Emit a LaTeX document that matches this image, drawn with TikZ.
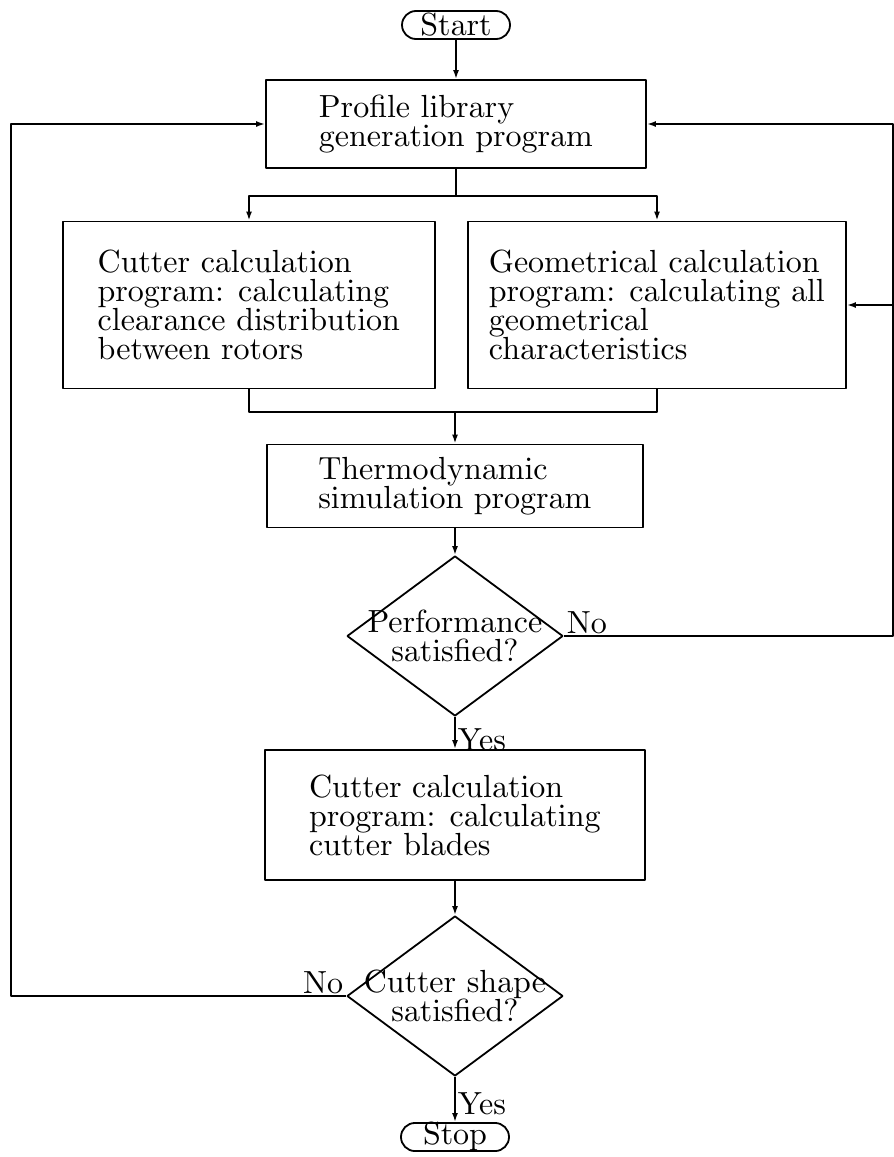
\documentclass[tikz,border=0pt]{standalone}
\usetikzlibrary{shapes.geometric,arrows.meta}
\font\chartfont=cmr10 at 16pt
\begin{document}
\begin{tikzpicture}[x=0.5pt, y=-0.5pt, line join=bevel, line width=0.9pt,
                    font={\chartfont\baselineskip=14.5pt}]

    \tikzset{
      process_box/.style  = {draw, rectangle, align=left, inner sep=0pt},
      terminal_box/.style = {draw, rectangle, rounded corners=7pt, inner sep=0pt,
                             minimum width=54pt, minimum height=14pt},
      decision/.style     = {draw, diamond, inner sep=0pt,
                             minimum width=108pt, minimum height=80pt},
      flow_arrow/.style   = {-{Latex[length=4.5pt,width=3pt]}},
      branch_label/.style = {inner sep=1pt}
    }

    \useasboundingbox (0,0) rectangle (894,1157);

    % main column
    \node[terminal_box] (start) at (456,25) {Start};
    \node[process_box, minimum width=190pt, minimum height=44pt] (profile) at (456,124)
        {Profile library\\generation program};
    \node[process_box, minimum width=186pt, minimum height=83.5pt] (clearance) at (249,305)
        {Cutter calculation\\program: calculating\\clearance distribution\\between rotors};
    \node[process_box, minimum width=189pt, minimum height=83.5pt] (geometry) at (657,305)
        {Geometrical calculation\\program: calculating all\\geometrical\\characteristics};
    \node[process_box, minimum width=188pt, minimum height=41.5pt] (thermo) at (455,486)
        {Thermodynamic\\simulation program};
    \node[decision, label={[align=center]center:{Performance\\satisfied?}}] (perf) at (455,636) {};
    \node[process_box, minimum width=190pt, minimum height=65pt] (blades) at (455,815)
        {Cutter calculation\\program: calculating\\cutter blades};
    \node[decision, label={[align=center]center:{Cutter shape\\satisfied?}}] (shape) at (455,996) {};
    \node[terminal_box] (stop) at (455,1137) {Stop};

    % split and join points
    \coordinate (fork)  at (456,196);
    \coordinate (merge) at (455,412);
    \coordinate (rtop)  at (893,124);
    \coordinate (rbot)  at (893,636);
    \coordinate (ltop)  at (11,124);
    \coordinate (lbot)  at (11,996);

    \draw[flow_arrow] (start) -- (profile);
    \draw (profile) -- (fork);
    \foreach \job in {clearance,geometry}{
        \draw[flow_arrow] (fork) -| (\job.north);
        \draw (\job.south) |- (merge);
    }
    \draw[flow_arrow] (merge) -- (thermo);
    \draw[flow_arrow] (thermo) -- (perf);
    \draw[flow_arrow] (perf) -- node[branch_label, right, pos=0.7] {Yes} (blades);
    \draw[flow_arrow] (blades) -- (shape);
    \draw[flow_arrow] (shape) -- node[branch_label, right, pos=0.6] {Yes} (stop);

    % loops back
    \draw[flow_arrow] (perf.east) -- node[branch_label, above right, pos=0] {No} (rbot)
        -- (rtop) -- (profile.east);
    \draw[flow_arrow] (rtop |- geometry.east) -- (geometry.east);
    \draw[flow_arrow] (shape.west) -- node[branch_label, above left, pos=0] {No} (lbot)
        -- (ltop) -- (profile.west);

\end{tikzpicture}
\end{document}
